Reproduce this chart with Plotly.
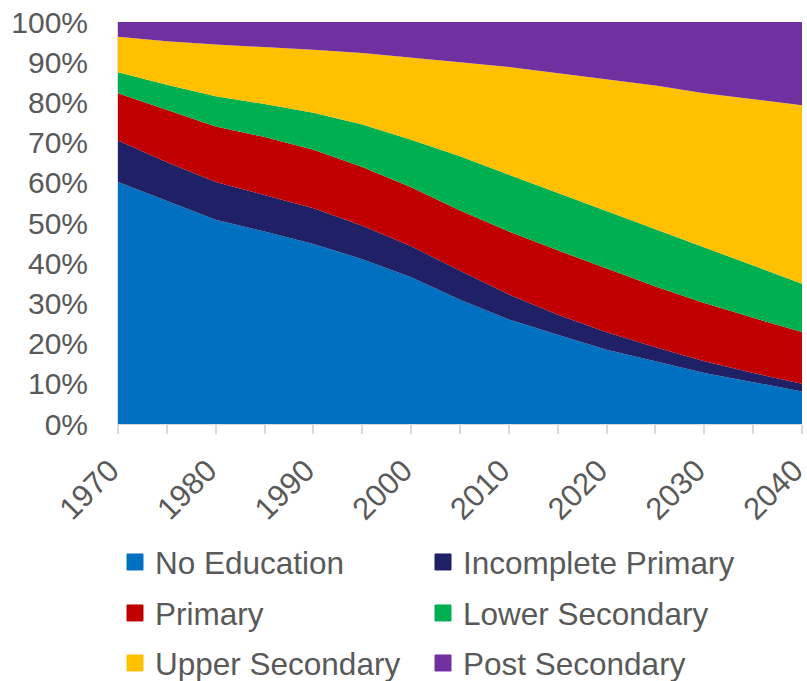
import plotly.graph_objects as go

years = [1970, 1975, 1980, 1985, 1990, 1995, 2000, 2005, 2010, 2015, 2020, 2025, 2030, 2035, 2040]

no_education = [60.2, 55.4, 50.8, 47.9, 44.8, 41.0, 36.5, 30.9, 26.0, 22.2, 18.5, 15.6, 12.7, 10.4, 8.1]
incomplete_primary = [10.3, 9.7, 9.4, 9.1, 8.9, 8.3, 7.7, 7.2, 6.2, 5.0, 4.3, 3.5, 2.9, 2.3, 1.9]
primary = [11.8, 13.1, 13.8, 14.4, 14.5, 14.6, 14.7, 15.0, 15.7, 16.0, 15.8, 15.1, 14.5, 13.7, 12.9]
lower_secondary = [5.2, 6.2, 7.5, 8.2, 9.2, 10.6, 11.8, 13.5, 14.1, 14.3, 14.3, 14.1, 13.7, 13.0, 12.0]
upper_secondary = [8.8, 10.8, 12.9, 14.2, 15.7, 17.8, 20.5, 23.4, 26.8, 29.8, 32.9, 35.9, 38.5, 41.4, 44.4]
post_secondary = [3.7, 4.8, 5.6, 6.2, 6.9, 7.7, 8.8, 10.0, 11.2, 12.7, 14.2, 15.8, 17.7, 19.2, 20.7]

series_names = ["No Education", "Incomplete Primary", "Primary",
                "Lower Secondary", "Upper Secondary", "Post Secondary"]
series_values = [no_education, incomplete_primary, primary,
                 lower_secondary, upper_secondary, post_secondary]
colors = ["#0070C0", "#1F2066", "#C00000", "#00B050", "#FFC000", "#7030A0"]

y_ticks = list(range(0, 101, 10))
y_tick_labels = [f"{v}%" for v in y_ticks]
x_ticks = list(range(1970, 2041, 10))

FONT = "Liberation Sans, Arial, sans-serif"
TXT = "#595959"
W, H = 807, 681

fig = go.Figure()
for name, vals, col in zip(series_names, series_values, colors):
    fig.add_trace(go.Scatter(
        x=years, y=vals, name=name, stackgroup="one", mode="lines",
        line=dict(width=0, color=col), fillcolor=col, showlegend=False,
        hoverinfo="x+y+name"))

# legend placement: two columns, three rows (pixel positions in the page)
col_x = [115, 423]
row_y = [562, 613, 663]
legend_layout = {}
for i, (name, col) in enumerate(zip(series_names, colors)):
    lid = "legend" if i == 0 else f"legend{i + 1}"
    fig.add_trace(go.Scatter(
        x=[None], y=[None], name=name, mode="markers",
        marker=dict(symbol="square", size=16, color=col,
                    line=dict(width=1, color=col)),
        legend=lid, showlegend=True))
    legend_layout[lid] = dict(
        xref="container", yref="container",
        x=col_x[i % 2] / W, y=1 - row_y[i // 2] / H,
        xanchor="left", yanchor="middle", orientation="h",
        font=dict(family=FONT, size=31.5, color=TXT),
        bgcolor="rgba(0,0,0,0)", itemwidth=30)

fig.update_layout(
    width=W, height=H,
    margin=dict(l=118, r=5, t=22, b=257),
    paper_bgcolor="white", plot_bgcolor="white",
    font=dict(family=FONT, color=TXT),
    xaxis=dict(range=[1970, 2040], tickvals=x_ticks, ticktext=[str(v) for v in x_ticks],
               tickangle=-45, tickfont=dict(family=FONT, size=31, color=TXT),
               ticklabeloverflow="allow", automargin=False,
               ticklabelstandoff=6, ticklabelshift=-8,
               ticks="outside", ticklen=9, tickcolor="#D9D9D9", tickwidth=2,
               minor=dict(dtick=5, tick0=1970, ticks="outside", ticklen=9,
                          tickcolor="#D9D9D9", tickwidth=2),
               showline=True, linecolor="#D9D9D9", linewidth=1,
               showgrid=False, zeroline=False),
    yaxis=dict(range=[0, 100], tickvals=y_ticks, ticktext=y_tick_labels,
               tickfont=dict(family=FONT, size=30, color=TXT),
               ticklabelstandoff=23, automargin=False,
               showline=True, linecolor="#D9D9D9", linewidth=1,
               showgrid=False, zeroline=False),
    **legend_layout,
)

fig.write_html("out.html",
               config={"displayModeBar": False},
               post_script="document.body.style.margin='0';"
                           "document.body.style.overflow='hidden';")
